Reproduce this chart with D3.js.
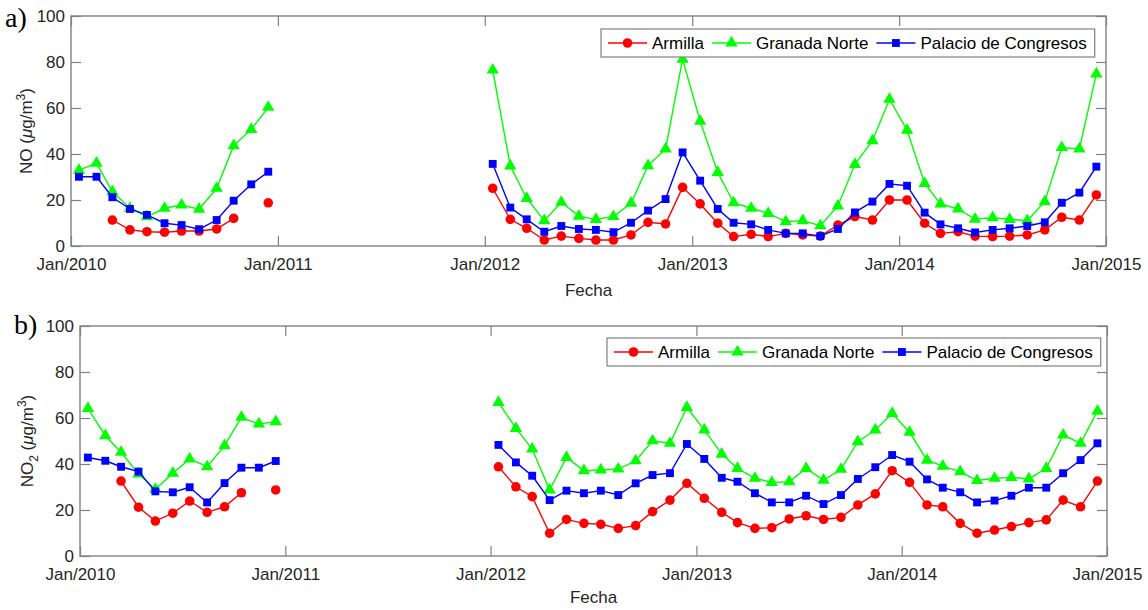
<!DOCTYPE html>
<html>
<head>
<meta charset="utf-8">
<script src="https://cdn.jsdelivr.net/npm/d3@7"></script>
<style>
  body { margin: 0; background: #fff; }
  svg { display: block; font-family: "Liberation Sans", Arial, sans-serif; }
</style>
</head>
<body>
<svg id="canvas" width="1148" height="610"></svg>
<script>
// Medias mensuales Jan/2010 - Dec/2014 (60 meses), null = sin dato

let xTicks = ['2010', '2011', '2012', '2013', '2014', '2015']
let yTicks = [0, 20, 40, 60, 80, 100]
let stations = ['Armilla', 'Granada Norte', 'Palacio de Congresos']

// NO
let noArmilla = [
  null, null, 11.3, 7.0, 6.2, 6.0, 6.5, 6.5, 7.4, 12.0, null, 18.8,
  null, null, null, null, null, null, null, null, null, null, null, null,
  25.1, 11.6, 7.7, 2.6, 4.3, 3.3, 2.6, 2.6, 4.8, 10.3, 9.6, 25.5,
  18.3, 9.9, 4.1, 5.1, 4.1, 5.5, 4.8, 4.3, 9.1, 12.8, 11.3, 20.0,
  20.0, 9.9, 5.5, 6.2, 4.3, 4.1, 4.3, 4.8, 7.0, 12.5, 11.3, 22.2
]
let noGranada = [
  33.0, 36.0, 23.6, 16.4, 12.7, 16.4, 17.8, 16.0, 25.1, 43.6, 50.7, 60.3,
  null, null, null, null, null, null, null, null, null, null, null, null,
  76.5, 34.8, 20.7, 11.0, 19.0, 13.0, 11.6, 12.8, 18.6, 34.9, 42.2, 81.2,
  54.3, 32.0, 18.8, 16.4, 14.2, 10.6, 11.0, 8.8, 17.4, 35.5, 45.8, 63.8,
  50.4, 27.2, 18.3, 16.1, 11.7, 12.3, 11.6, 11.0, 19.3, 42.8, 42.2, 74.8
]
let noPalacio = [
  30.1, 30.1, 21.2, 16.1, 13.5, 9.9, 9.1, 7.3, 11.3, 19.7, 26.8, 32.3,
  null, null, null, null, null, null, null, null, null, null, null, null,
  35.7, 16.7, 11.6, 6.2, 8.7, 7.4, 7.0, 6.0, 10.1, 15.4, 20.4, 40.7,
  28.4, 16.1, 10.1, 9.4, 7.0, 5.5, 5.5, 4.3, 7.4, 14.6, 19.3, 27.0,
  26.2, 14.5, 9.4, 7.7, 5.9, 7.0, 7.7, 8.7, 10.3, 18.8, 23.2, 34.5
]

// NO2
let no2Armilla = [
  null, null, 32.6, 21.2, 15.2, 18.6, 23.9, 19.0, 21.4, 27.5, null, 28.7,
  null, null, null, null, null, null, null, null, null, null, null, null,
  38.8, 30.1, 25.8, 9.9, 15.9, 14.2, 13.8, 12.0, 13.2, 19.3, 24.3, 31.6,
  25.1, 19.0, 14.5, 12.0, 12.3, 16.1, 17.5, 15.9, 16.8, 22.2, 27.0, 37.1,
  32.0, 22.2, 21.4, 14.2, 9.9, 11.3, 12.8, 14.5, 15.7, 24.3, 21.4, 32.6
]
let no2Granada = [
  64.2, 52.3, 45.1, 35.7, 29.0, 36.0, 42.2, 38.8, 48.0, 60.3, 57.4, 58.4,
  null, null, null, null, null, null, null, null, null, null, null, null,
  66.8, 55.5, 46.5, 28.7, 42.9, 37.1, 37.4, 37.8, 41.4, 50.1, 49.0, 64.6,
  54.8, 44.3, 38.1, 33.8, 32.0, 32.3, 38.1, 33.0, 37.7, 49.7, 54.8, 62.0,
  53.8, 41.7, 39.1, 36.7, 32.8, 33.8, 34.2, 33.5, 38.1, 52.6, 49.0, 63.0
]
let no2Palacio = [
  42.8, 41.4, 38.8, 36.7, 28.1, 27.7, 29.9, 23.3, 31.7, 38.4, 38.4, 41.3,
  null, null, null, null, null, null, null, null, null, null, null, null,
  48.3, 40.7, 34.9, 24.3, 28.4, 27.3, 28.4, 26.5, 31.6, 35.2, 36.0, 48.7,
  42.2, 34.0, 32.3, 27.3, 23.3, 23.3, 26.2, 22.6, 26.5, 33.5, 38.6, 43.9,
  41.0, 33.3, 29.7, 27.7, 23.3, 24.1, 26.2, 29.7, 29.7, 36.0, 41.7, 49.0
]

let colores = ['#ff0000', '#00ff00', '#0000ff']
let simbolos = [d3.symbolCircle, d3.symbolTriangle, d3.symbolSquare]
let tamanos = [72, 66, 62]

let canvas = d3.select('#canvas')
let meses = d3.utcMonth.range(new Date(Date.UTC(2010, 0, 1)), new Date(Date.UTC(2015, 0, 1)))
let fechaPunto = m => d3.utcDay.offset(m, 14)

let dibujarPanel = (p) => {
  let x = d3.scaleUtc()
            .domain([new Date(Date.UTC(2010, 0, 1)), new Date(Date.UTC(2015, 0, 1))])
            .range([p.left, p.right])
  let y = d3.scaleLinear().domain([0, 100]).range([p.bottom, p.top])
  let tickFechas = xTicks.map(a => new Date(Date.UTC(+a, 0, 1)))

  let g = canvas.append('g')

  // ejes
  let ejeX = g.append('g').attr('transform', `translate(0,${p.bottom})`)
     .call(d3.axisBottom(x).tickValues(tickFechas).tickFormat(d3.utcFormat('%b/%Y'))
            .tickSizeInner(-10).tickSizeOuter(0).tickPadding(12))
  let ejeY = g.append('g').attr('transform', `translate(${p.left},0)`)
     .call(d3.axisLeft(y).tickValues(yTicks).tickSizeInner(-10).tickSizeOuter(0).tickPadding(6))
  let ejeXsup = g.append('g').attr('transform', `translate(0,${p.top})`)
     .call(d3.axisTop(x).tickValues(tickFechas).tickFormat('').tickSizeInner(-10).tickSizeOuter(0))
  let ejeYder = g.append('g').attr('transform', `translate(${p.right},0)`)
     .call(d3.axisRight(y).tickValues(yTicks).tickFormat('').tickSizeInner(-10).tickSizeOuter(0))

  ;[ejeX, ejeY, ejeXsup, ejeYder].forEach(e => {
    e.select('.domain').remove()
    e.selectAll('line').attr('stroke', '#808080').attr('stroke-width', 1.2)
    e.selectAll('text').attr('fill', '#262626').style('font-size', '17px')
  })

  g.append('rect')
   .attr('x', p.left).attr('y', p.top)
   .attr('width', p.right - p.left).attr('height', p.bottom - p.top)
   .attr('fill', 'none').attr('stroke', '#808080').attr('stroke-width', 1.4)

  // series
  p.series.forEach((s, i) => {
    let puntos = meses.map((m, k) => ({ fecha: fechaPunto(m), v: s[k] }))
    let linea = d3.line()
                  .defined(d => d.v != null)
                  .x(d => x(d.fecha))
                  .y(d => y(d.v))
    g.append('path')
     .attr('d', linea(puntos))
     .attr('fill', 'none')
     .attr('stroke', colores[i])
     .attr('stroke-width', 1.4)
    g.selectAll('.m' + i)
     .data(puntos.filter(d => d.v != null))
     .enter()
     .append('path')
     .attr('class', 'm' + i)
     .attr('transform', d => `translate(${x(d.fecha)},${y(d.v)})`)
     .attr('d', d3.symbol().type(simbolos[i]).size(tamanos[i]))
     .attr('fill', colores[i])
  })

  // leyenda
  let ley = g.append('g')
  let caja = ley.append('rect')
     .attr('x', p.legX).attr('y', p.legY).attr('height', 28)
     .attr('fill', '#fff').attr('stroke', '#808080').attr('stroke-width', 1.2)
  let cx = p.legX + 7
  let cy = p.legY + 14
  stations.forEach((nombre, i) => {
    ley.append('line')
       .attr('x1', cx).attr('x2', cx + 39).attr('y1', cy).attr('y2', cy)
       .attr('stroke', colores[i]).attr('stroke-width', 1.4)
    ley.append('path')
       .attr('transform', `translate(${cx + 19.5},${cy})`)
       .attr('d', d3.symbol().type(simbolos[i]).size(tamanos[i]))
       .attr('fill', colores[i])
    let t = ley.append('text')
       .attr('x', cx + 44).attr('y', cy + 6)
       .attr('fill', '#000').style('font-size', '17px')
       .text(nombre)
    cx = cx + 44 + t.node().getComputedTextLength() + 8
  })
  caja.attr('width', cx - p.legX)

  // etiquetas
  g.append('text')
   .attr('x', (p.left + p.right) / 2).attr('y', p.fechaY)
   .attr('text-anchor', 'middle').attr('fill', '#262626').style('font-size', '17px')
   .text('Fecha')

  let yl = g.append('text')
   .attr('transform', `translate(${p.ylabX},${(p.top + p.bottom) / 2}) rotate(-90)`)
   .attr('text-anchor', 'middle').attr('fill', '#262626').style('font-size', '17px')
  yl.append('tspan').text('NO')
  if (p.sub) {
    yl.append('tspan').attr('dy', 5).style('font-size', '12px').text(p.sub)
    yl.append('tspan').attr('dy', -5).text(' (')
  } else {
    yl.append('tspan').text(' (')
  }
  yl.append('tspan').style('font-style', 'italic').text('\u03bc')
  yl.append('tspan').text('g/m')
  yl.append('tspan').attr('dy', -7).style('font-size', '12px').text('3')
  yl.append('tspan').attr('dy', 7).text(')')

  g.append('text')
   .attr('x', p.tagX).attr('y', p.tagY)
   .style('font-family', '"Liberation Serif", "Times New Roman", serif')
   .style('font-size', '28px').attr('fill', '#000')
   .text(p.tag)
}

dibujarPanel({
  top: 16, bottom: 246, left: 71, right: 1106,
  series: [noArmilla, noGranada, noPalacio],
  legX: 601, legY: 29, fechaY: 296, ylabX: 32, sub: null,
  tag: 'a)', tagX: 5, tagY: 27
})

dibujarPanel({
  top: 326, bottom: 556, left: 80, right: 1107,
  series: [no2Armilla, no2Granada, no2Palacio],
  legX: 607, legY: 338, fechaY: 603, ylabX: 33, sub: '2',
  tag: 'b)', tagX: 14, tagY: 334
})
</script>
</body>
</html>
